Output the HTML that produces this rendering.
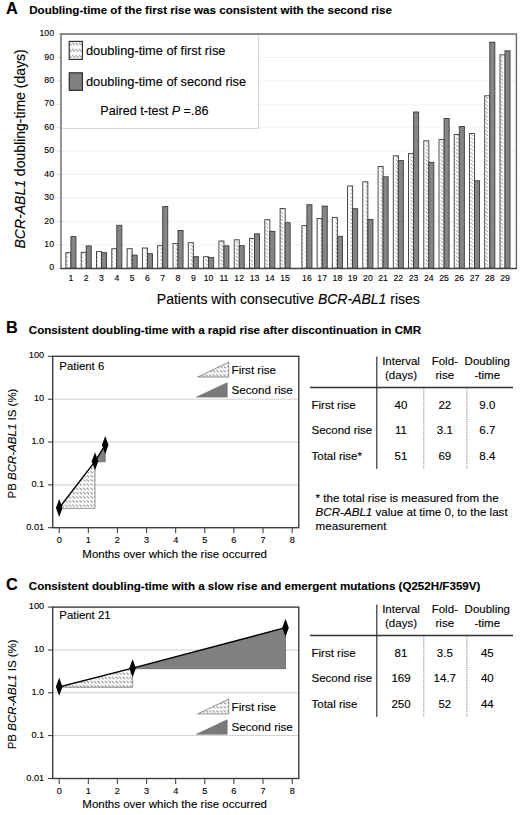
<!DOCTYPE html>
<html><head><meta charset="utf-8"><title>BCR-ABL1 doubling-time</title>
<style>
html,body{margin:0;padding:0;background:#fff;}
body{width:520px;height:815px;overflow:hidden;}
svg{display:block;}
text{font-family:"Liberation Sans",sans-serif;fill:#000;stroke:#000;stroke-width:0.12px;}
.b{font-weight:bold;fill:#000;}
.i{font-style:italic;}
</style></head><body>
<svg width="520" height="815" viewBox="0 0 520 815">
<defs>
<pattern id="h" patternUnits="userSpaceOnUse" width="5" height="3.7" x="0" y="0">
<rect width="5" height="3.7" fill="#fff"/>
<path d="M0.6,0.4 L3.0,2.9" stroke="#858585" stroke-width="0.85"/>
</pattern>
<pattern id="h2" patternUnits="userSpaceOnUse" width="3.6" height="4.2" x="0" y="0">
<rect width="3.6" height="4.2" fill="#fff"/>
<path d="M0.3,0.5 L2.8,2.8" stroke="#777" stroke-width="0.9"/>
</pattern>
<pattern id="h3" patternUnits="userSpaceOnUse" width="3.4" height="6.3" x="68.6" y="41.8">
<rect width="3.4" height="6.3" fill="#fff"/>
<path d="M0.3,0.7 L3.0,3.4" stroke="#7a7a7a" stroke-width="0.9"/>
</pattern>
</defs>
<rect width="520" height="815" fill="#fff"/>

<text x="6" y="14.2" class="b" font-size="16.3">A</text>
<text x="29.2" y="14.2" class="b" font-size="11.6">Doubling-time of the first rise was consistent with the second rise</text>
<line x1="61" y1="244.8" x2="516" y2="244.8" stroke="#f2f2f2" stroke-width="1"/>
<line x1="61" y1="221.4" x2="516" y2="221.4" stroke="#f2f2f2" stroke-width="1"/>
<line x1="61" y1="197.9" x2="516" y2="197.9" stroke="#f2f2f2" stroke-width="1"/>
<line x1="61" y1="174.5" x2="516" y2="174.5" stroke="#f2f2f2" stroke-width="1"/>
<line x1="61" y1="151.1" x2="516" y2="151.1" stroke="#f2f2f2" stroke-width="1"/>
<line x1="61" y1="127.7" x2="516" y2="127.7" stroke="#f2f2f2" stroke-width="1"/>
<line x1="61" y1="104.3" x2="516" y2="104.3" stroke="#f2f2f2" stroke-width="1"/>
<line x1="61" y1="80.8" x2="516" y2="80.8" stroke="#f2f2f2" stroke-width="1"/>
<line x1="61" y1="57.4" x2="516" y2="57.4" stroke="#f2f2f2" stroke-width="1"/>
<text x="54" y="270.3" font-size="8.7" text-anchor="end">0</text>
<line x1="57" y1="268.2" x2="61" y2="268.2" stroke="#ccc" stroke-width="0.8"/>
<text x="54" y="246.9" font-size="8.7" text-anchor="end">10</text>
<line x1="57" y1="244.8" x2="61" y2="244.8" stroke="#ccc" stroke-width="0.8"/>
<text x="54" y="223.5" font-size="8.7" text-anchor="end">20</text>
<line x1="57" y1="221.4" x2="61" y2="221.4" stroke="#ccc" stroke-width="0.8"/>
<text x="54" y="200.0" font-size="8.7" text-anchor="end">30</text>
<line x1="57" y1="197.9" x2="61" y2="197.9" stroke="#ccc" stroke-width="0.8"/>
<text x="54" y="176.6" font-size="8.7" text-anchor="end">40</text>
<line x1="57" y1="174.5" x2="61" y2="174.5" stroke="#ccc" stroke-width="0.8"/>
<text x="54" y="153.2" font-size="8.7" text-anchor="end">50</text>
<line x1="57" y1="151.1" x2="61" y2="151.1" stroke="#ccc" stroke-width="0.8"/>
<text x="54" y="129.8" font-size="8.7" text-anchor="end">60</text>
<line x1="57" y1="127.7" x2="61" y2="127.7" stroke="#ccc" stroke-width="0.8"/>
<text x="54" y="106.4" font-size="8.7" text-anchor="end">70</text>
<line x1="57" y1="104.3" x2="61" y2="104.3" stroke="#ccc" stroke-width="0.8"/>
<text x="54" y="82.9" font-size="8.7" text-anchor="end">80</text>
<line x1="57" y1="80.8" x2="61" y2="80.8" stroke="#ccc" stroke-width="0.8"/>
<text x="54" y="59.5" font-size="8.7" text-anchor="end">90</text>
<line x1="57" y1="57.4" x2="61" y2="57.4" stroke="#ccc" stroke-width="0.8"/>
<text x="54" y="36.1" font-size="8.7" text-anchor="end">100</text>
<line x1="57" y1="34.0" x2="61" y2="34.0" stroke="#ccc" stroke-width="0.8"/>
<rect x="61" y="34" width="197.7" height="94.3" fill="#fff" stroke="#c8c8c8" stroke-width="0.8"/>
<rect x="65.9" y="252.7" width="5.05" height="15.5" fill="url(#h)" stroke="#3a3a3a" stroke-width="0.9"/>
<rect x="70.9" y="236.6" width="5.05" height="31.6" fill="#858585" stroke="#3a3a3a" stroke-width="0.9"/>
<text x="70.9" y="281.3" font-size="8.7" text-anchor="middle">1</text>
<rect x="81.2" y="252.3" width="5.05" height="15.9" fill="url(#h)" stroke="#3a3a3a" stroke-width="0.9"/>
<rect x="86.2" y="245.9" width="5.05" height="22.3" fill="#858585" stroke="#3a3a3a" stroke-width="0.9"/>
<text x="86.2" y="281.3" font-size="8.7" text-anchor="middle">2</text>
<rect x="96.5" y="251.6" width="5.05" height="16.6" fill="url(#h)" stroke="#3a3a3a" stroke-width="0.9"/>
<rect x="101.5" y="252.7" width="5.05" height="15.5" fill="#858585" stroke="#3a3a3a" stroke-width="0.9"/>
<text x="101.5" y="281.3" font-size="8.7" text-anchor="middle">3</text>
<rect x="111.8" y="248.7" width="5.05" height="19.5" fill="url(#h)" stroke="#3a3a3a" stroke-width="0.9"/>
<rect x="116.8" y="225.3" width="5.05" height="42.9" fill="#858585" stroke="#3a3a3a" stroke-width="0.9"/>
<text x="116.8" y="281.3" font-size="8.7" text-anchor="middle">4</text>
<rect x="127.1" y="248.7" width="5.05" height="19.5" fill="url(#h)" stroke="#3a3a3a" stroke-width="0.9"/>
<rect x="132.1" y="255.1" width="5.05" height="13.1" fill="#858585" stroke="#3a3a3a" stroke-width="0.9"/>
<text x="132.1" y="281.3" font-size="8.7" text-anchor="middle">5</text>
<rect x="142.4" y="248.0" width="5.05" height="20.2" fill="url(#h)" stroke="#3a3a3a" stroke-width="0.9"/>
<rect x="147.4" y="253.7" width="5.05" height="14.5" fill="#858585" stroke="#3a3a3a" stroke-width="0.9"/>
<text x="147.4" y="281.3" font-size="8.7" text-anchor="middle">6</text>
<rect x="157.7" y="245.7" width="5.05" height="22.5" fill="url(#h)" stroke="#3a3a3a" stroke-width="0.9"/>
<rect x="162.7" y="206.6" width="5.05" height="61.6" fill="#858585" stroke="#3a3a3a" stroke-width="0.9"/>
<text x="162.7" y="281.3" font-size="8.7" text-anchor="middle">7</text>
<rect x="173.0" y="243.6" width="5.05" height="24.6" fill="url(#h)" stroke="#3a3a3a" stroke-width="0.9"/>
<rect x="178.0" y="230.5" width="5.05" height="37.7" fill="#858585" stroke="#3a3a3a" stroke-width="0.9"/>
<text x="178.0" y="281.3" font-size="8.7" text-anchor="middle">8</text>
<rect x="188.3" y="242.7" width="5.05" height="25.5" fill="url(#h)" stroke="#3a3a3a" stroke-width="0.9"/>
<rect x="193.3" y="256.7" width="5.05" height="11.5" fill="#858585" stroke="#3a3a3a" stroke-width="0.9"/>
<text x="193.3" y="281.3" font-size="8.7" text-anchor="middle">9</text>
<rect x="203.6" y="256.7" width="5.05" height="11.5" fill="url(#h)" stroke="#3a3a3a" stroke-width="0.9"/>
<rect x="208.6" y="257.6" width="5.05" height="10.6" fill="#858585" stroke="#3a3a3a" stroke-width="0.9"/>
<text x="208.6" y="281.3" font-size="8.7" text-anchor="middle">10</text>
<rect x="218.9" y="241.0" width="5.05" height="27.2" fill="url(#h)" stroke="#3a3a3a" stroke-width="0.9"/>
<rect x="223.9" y="245.9" width="5.05" height="22.3" fill="#858585" stroke="#3a3a3a" stroke-width="0.9"/>
<text x="223.9" y="281.3" font-size="8.7" text-anchor="middle">11</text>
<rect x="234.2" y="239.8" width="5.05" height="28.4" fill="url(#h)" stroke="#3a3a3a" stroke-width="0.9"/>
<rect x="239.2" y="245.7" width="5.05" height="22.5" fill="#858585" stroke="#3a3a3a" stroke-width="0.9"/>
<text x="239.2" y="281.3" font-size="8.7" text-anchor="middle">12</text>
<rect x="249.5" y="238.4" width="5.05" height="29.8" fill="url(#h)" stroke="#3a3a3a" stroke-width="0.9"/>
<rect x="254.5" y="233.8" width="5.05" height="34.4" fill="#858585" stroke="#3a3a3a" stroke-width="0.9"/>
<text x="254.5" y="281.3" font-size="8.7" text-anchor="middle">13</text>
<rect x="264.8" y="219.7" width="5.05" height="48.5" fill="url(#h)" stroke="#3a3a3a" stroke-width="0.9"/>
<rect x="269.8" y="231.4" width="5.05" height="36.8" fill="#858585" stroke="#3a3a3a" stroke-width="0.9"/>
<text x="269.8" y="281.3" font-size="8.7" text-anchor="middle">14</text>
<rect x="280.1" y="208.5" width="5.05" height="59.7" fill="url(#h)" stroke="#3a3a3a" stroke-width="0.9"/>
<rect x="285.1" y="222.7" width="5.05" height="45.5" fill="#858585" stroke="#3a3a3a" stroke-width="0.9"/>
<text x="285.1" y="281.3" font-size="8.7" text-anchor="middle">15</text>
<rect x="301.9" y="225.6" width="5.05" height="42.6" fill="url(#h)" stroke="#3a3a3a" stroke-width="0.9"/>
<rect x="306.9" y="204.7" width="5.05" height="63.5" fill="#858585" stroke="#3a3a3a" stroke-width="0.9"/>
<text x="306.9" y="281.3" font-size="8.7" text-anchor="middle">16</text>
<rect x="317.1" y="218.5" width="5.05" height="49.7" fill="url(#h)" stroke="#3a3a3a" stroke-width="0.9"/>
<rect x="322.2" y="206.1" width="5.05" height="62.1" fill="#858585" stroke="#3a3a3a" stroke-width="0.9"/>
<text x="322.2" y="281.3" font-size="8.7" text-anchor="middle">17</text>
<rect x="332.3" y="217.4" width="5.05" height="50.8" fill="url(#h)" stroke="#3a3a3a" stroke-width="0.9"/>
<rect x="337.4" y="236.3" width="5.05" height="31.9" fill="#858585" stroke="#3a3a3a" stroke-width="0.9"/>
<text x="337.4" y="281.3" font-size="8.7" text-anchor="middle">18</text>
<rect x="347.6" y="186.0" width="5.05" height="82.2" fill="url(#h)" stroke="#3a3a3a" stroke-width="0.9"/>
<rect x="352.6" y="208.7" width="5.05" height="59.5" fill="#858585" stroke="#3a3a3a" stroke-width="0.9"/>
<text x="352.6" y="281.3" font-size="8.7" text-anchor="middle">19</text>
<rect x="362.8" y="181.8" width="5.05" height="86.4" fill="url(#h)" stroke="#3a3a3a" stroke-width="0.9"/>
<rect x="367.9" y="219.5" width="5.05" height="48.7" fill="#858585" stroke="#3a3a3a" stroke-width="0.9"/>
<text x="367.9" y="281.3" font-size="8.7" text-anchor="middle">20</text>
<rect x="378.1" y="166.5" width="5.05" height="101.7" fill="url(#h)" stroke="#3a3a3a" stroke-width="0.9"/>
<rect x="383.1" y="176.8" width="5.05" height="91.4" fill="#858585" stroke="#3a3a3a" stroke-width="0.9"/>
<text x="383.1" y="281.3" font-size="8.7" text-anchor="middle">21</text>
<rect x="393.3" y="155.8" width="5.05" height="112.4" fill="url(#h)" stroke="#3a3a3a" stroke-width="0.9"/>
<rect x="398.3" y="160.4" width="5.05" height="107.8" fill="#858585" stroke="#3a3a3a" stroke-width="0.9"/>
<text x="398.3" y="281.3" font-size="8.7" text-anchor="middle">22</text>
<rect x="408.5" y="153.7" width="5.05" height="114.5" fill="url(#h)" stroke="#3a3a3a" stroke-width="0.9"/>
<rect x="413.6" y="112.0" width="5.05" height="156.2" fill="#858585" stroke="#3a3a3a" stroke-width="0.9"/>
<text x="413.6" y="281.3" font-size="8.7" text-anchor="middle">23</text>
<rect x="423.8" y="140.8" width="5.05" height="127.4" fill="url(#h)" stroke="#3a3a3a" stroke-width="0.9"/>
<rect x="428.8" y="162.3" width="5.05" height="105.9" fill="#858585" stroke="#3a3a3a" stroke-width="0.9"/>
<text x="428.8" y="281.3" font-size="8.7" text-anchor="middle">24</text>
<rect x="439.0" y="139.6" width="5.05" height="128.6" fill="url(#h)" stroke="#3a3a3a" stroke-width="0.9"/>
<rect x="444.1" y="118.5" width="5.05" height="149.7" fill="#858585" stroke="#3a3a3a" stroke-width="0.9"/>
<text x="444.1" y="281.3" font-size="8.7" text-anchor="middle">25</text>
<rect x="454.2" y="134.5" width="5.05" height="133.7" fill="url(#h)" stroke="#3a3a3a" stroke-width="0.9"/>
<rect x="459.3" y="126.5" width="5.05" height="141.7" fill="#858585" stroke="#3a3a3a" stroke-width="0.9"/>
<text x="459.3" y="281.3" font-size="8.7" text-anchor="middle">26</text>
<rect x="469.5" y="133.5" width="5.05" height="134.7" fill="url(#h)" stroke="#3a3a3a" stroke-width="0.9"/>
<rect x="474.5" y="180.8" width="5.05" height="87.4" fill="#858585" stroke="#3a3a3a" stroke-width="0.9"/>
<text x="474.5" y="281.3" font-size="8.7" text-anchor="middle">27</text>
<rect x="484.7" y="95.8" width="5.05" height="172.4" fill="url(#h)" stroke="#3a3a3a" stroke-width="0.9"/>
<rect x="489.8" y="42.2" width="5.05" height="226.0" fill="#858585" stroke="#3a3a3a" stroke-width="0.9"/>
<text x="489.8" y="281.3" font-size="8.7" text-anchor="middle">28</text>
<rect x="500.0" y="54.8" width="5.05" height="213.4" fill="url(#h)" stroke="#3a3a3a" stroke-width="0.9"/>
<rect x="505.0" y="50.8" width="5.05" height="217.4" fill="#858585" stroke="#3a3a3a" stroke-width="0.9"/>
<text x="505.0" y="281.3" font-size="8.7" text-anchor="middle">29</text>
<path d="M61,268.4 L61,34 L516.4,34 L516.4,268.4" fill="none" stroke="#6a6a6a" stroke-width="1.4"/>
<line x1="60.3" y1="268.4" x2="517" y2="268.4" stroke="#444" stroke-width="1.5"/>
<rect x="69.2" y="41.4" width="13.2" height="18" fill="url(#h3)" stroke="#222" stroke-width="1.1"/>
<rect x="69.2" y="72.8" width="13.2" height="17.5" fill="#7f7f7f" stroke="#222" stroke-width="1.1"/>
<text x="86" y="55.4" font-size="12.8">doubling-time of first rise</text>
<text x="86" y="85.8" font-size="12.8">doubling-time of second rise</text>
<text x="100.3" y="114.6" font-size="12.6">Paired t-test <tspan class="i">P</tspan> =.86</text>
<text transform="translate(24.5,248.5) rotate(-90)" font-size="14"><tspan class="i">BCR-ABL1</tspan> doubling-time (days)</text>
<text x="156.8" y="304.2" font-size="14">Patients with consecutive <tspan class="i">BCR-ABL1</tspan> rises</text>
<text x="6" y="333.2" class="b" font-size="16.3">B</text>
<text x="28.8" y="333.6" class="b" font-size="11.6">Consistent doubling-time with a rapid rise after discontinuation in CMR</text>
<line x1="52.7" y1="399.2" x2="298.8" y2="399.2" stroke="#cfcfcf" stroke-width="1"/>
<line x1="52.7" y1="442.0" x2="298.8" y2="442.0" stroke="#cfcfcf" stroke-width="1"/>
<line x1="52.7" y1="484.9" x2="298.8" y2="484.9" stroke="#cfcfcf" stroke-width="1"/>
<line x1="48" y1="356.3" x2="52.7" y2="356.3" stroke="#333" stroke-width="1"/>
<text x="44.2" y="358.3" font-size="9.2" text-anchor="end">100</text>
<line x1="48" y1="399.2" x2="52.7" y2="399.2" stroke="#333" stroke-width="1"/>
<text x="44.2" y="401.2" font-size="9.2" text-anchor="end">10</text>
<line x1="48" y1="442.0" x2="52.7" y2="442.0" stroke="#333" stroke-width="1"/>
<text x="44.2" y="444.0" font-size="9.2" text-anchor="end">1.0</text>
<line x1="48" y1="484.9" x2="52.7" y2="484.9" stroke="#333" stroke-width="1"/>
<text x="44.2" y="486.9" font-size="9.2" text-anchor="end">0.1</text>
<line x1="48" y1="527.7" x2="52.7" y2="527.7" stroke="#333" stroke-width="1"/>
<text x="44.2" y="529.7" font-size="9.2" text-anchor="end">0.01</text>
<line x1="59.2" y1="527.7" x2="59.2" y2="533.2" stroke="#333" stroke-width="1"/>
<text x="59.2" y="543.1" font-size="9.2" text-anchor="middle">0</text>
<line x1="88.3" y1="527.7" x2="88.3" y2="533.2" stroke="#333" stroke-width="1"/>
<text x="88.3" y="543.1" font-size="9.2" text-anchor="middle">1</text>
<line x1="117.4" y1="527.7" x2="117.4" y2="533.2" stroke="#333" stroke-width="1"/>
<text x="117.4" y="543.1" font-size="9.2" text-anchor="middle">2</text>
<line x1="146.6" y1="527.7" x2="146.6" y2="533.2" stroke="#333" stroke-width="1"/>
<text x="146.6" y="543.1" font-size="9.2" text-anchor="middle">3</text>
<line x1="175.7" y1="527.7" x2="175.7" y2="533.2" stroke="#333" stroke-width="1"/>
<text x="175.7" y="543.1" font-size="9.2" text-anchor="middle">4</text>
<line x1="204.8" y1="527.7" x2="204.8" y2="533.2" stroke="#333" stroke-width="1"/>
<text x="204.8" y="543.1" font-size="9.2" text-anchor="middle">5</text>
<line x1="233.9" y1="527.7" x2="233.9" y2="533.2" stroke="#333" stroke-width="1"/>
<text x="233.9" y="543.1" font-size="9.2" text-anchor="middle">6</text>
<line x1="263.0" y1="527.7" x2="263.0" y2="533.2" stroke="#333" stroke-width="1"/>
<text x="263.0" y="543.1" font-size="9.2" text-anchor="middle">7</text>
<line x1="292.2" y1="527.7" x2="292.2" y2="533.2" stroke="#333" stroke-width="1"/>
<text x="292.2" y="543.1" font-size="9.2" text-anchor="middle">8</text>
<path d="M59.2,508.4 L95.0,508.4 L95.0,461.3 Z" fill="url(#h2)" stroke="#888" stroke-width="0.9"/>
<path d="M95.0,461.8 L105.2,461.8 L105.2,445.0 Z" fill="#808080" stroke="#666" stroke-width="0.8"/>
<polyline points="59.2,507.9 95.0,461.3 105.2,445.0" fill="none" stroke="#000" stroke-width="1.35"/>
<path d="M59.2,498.9 L62.5,507.9 L59.2,516.9 L55.9,507.9 Z" fill="#000"/>
<path d="M95.0,452.3 L98.3,461.3 L95.0,470.3 L91.7,461.3 Z" fill="#000"/>
<path d="M105.2,436.0 L108.5,445.0 L105.2,454.0 L101.9,445.0 Z" fill="#000"/>
<rect x="52.7" y="356.3" width="246.1" height="171.4" fill="none" stroke="#3c3c3c" stroke-width="1.4"/>
<text x="59.3" y="370.3" font-size="11.4">Patient 6</text>
<path d="M197.7,377.0 L228.7,362.2 L228.7,377.0 Z" fill="url(#h2)" stroke="#777" stroke-width="0.8"/>
<path d="M196.6,397.1 L227.2,382.7 L227.2,397.1 Z" fill="#7a7a7a" stroke="#666" stroke-width="0.6"/>
<text x="231.6" y="373.9" font-size="11.6">First rise</text>
<text x="231.6" y="394.2" font-size="11.6">Second rise</text>
<text transform="translate(16.2,498.5) rotate(-90)" font-size="11.5">PB <tspan class="i">BCR-ABL1</tspan> IS (%)</text>
<text x="82.3" y="557.5" font-size="11.5">Months over which the rise occurred</text>
<line x1="376.8" y1="356.5" x2="376.8" y2="468.9" stroke="#333" stroke-width="1.2"/>
<line x1="310" y1="387.5" x2="513" y2="387.5" stroke="#333" stroke-width="1.3"/>
<line x1="423.8" y1="388.0" x2="423.8" y2="468.9" stroke="#777" stroke-width="0.9" stroke-dasharray="1.2,1"/>
<line x1="466.9" y1="388.0" x2="466.9" y2="468.9" stroke="#777" stroke-width="0.9" stroke-dasharray="1.2,1"/>
<text x="401" y="364.7" font-size="11.5" text-anchor="middle">Interval</text>
<text x="401" y="379.2" font-size="11.5" text-anchor="middle">(days)</text>
<text x="444.8" y="364.7" font-size="11.5" text-anchor="middle">Fold-</text>
<text x="444.8" y="379.2" font-size="11.5" text-anchor="middle">rise</text>
<text x="487.3" y="364.7" font-size="11.5" text-anchor="middle">Doubling</text>
<text x="487.3" y="379.2" font-size="11.5" text-anchor="middle">-time</text>
<text x="311.5" y="408.5" font-size="11.5">First rise</text>
<text x="401" y="408.5" font-size="11.5" text-anchor="middle">40</text>
<text x="444.8" y="408.5" font-size="11.5" text-anchor="middle">22</text>
<text x="487.3" y="408.5" font-size="11.5" text-anchor="middle">9.0</text>
<text x="311.5" y="434.1" font-size="11.5">Second rise</text>
<text x="401" y="434.1" font-size="11.5" text-anchor="middle">11</text>
<text x="444.8" y="434.1" font-size="11.5" text-anchor="middle">3.1</text>
<text x="487.3" y="434.1" font-size="11.5" text-anchor="middle">6.7</text>
<text x="311.5" y="459.7" font-size="11.5">Total rise*</text>
<text x="401" y="459.7" font-size="11.5" text-anchor="middle">51</text>
<text x="444.8" y="459.7" font-size="11.5" text-anchor="middle">69</text>
<text x="487.3" y="459.7" font-size="11.5" text-anchor="middle">8.4</text>
<text x="315.6" y="501.9" font-size="11.6">* the total rise is measured from the</text>
<text x="315.6" y="515.8" font-size="11.6"><tspan class="i">BCR-ABL1</tspan> value at time 0, to the last</text>
<text x="315.6" y="529.8" font-size="11.6">measurement</text>
<text x="6" y="589.7" class="b" font-size="16.3">C</text>
<text x="28.8" y="590.1" class="b" font-size="11.6">Consistent doubling-time with a slow rise and emergent mutations (Q252H/F359V)</text>
<line x1="52.7" y1="650.0" x2="298.8" y2="650.0" stroke="#cfcfcf" stroke-width="1"/>
<line x1="52.7" y1="692.8" x2="298.8" y2="692.8" stroke="#cfcfcf" stroke-width="1"/>
<line x1="52.7" y1="735.6" x2="298.8" y2="735.6" stroke="#cfcfcf" stroke-width="1"/>
<line x1="48" y1="607.1" x2="52.7" y2="607.1" stroke="#333" stroke-width="1"/>
<text x="44.2" y="609.1" font-size="9.2" text-anchor="end">100</text>
<line x1="48" y1="650.0" x2="52.7" y2="650.0" stroke="#333" stroke-width="1"/>
<text x="44.2" y="652.0" font-size="9.2" text-anchor="end">10</text>
<line x1="48" y1="692.8" x2="52.7" y2="692.8" stroke="#333" stroke-width="1"/>
<text x="44.2" y="694.8" font-size="9.2" text-anchor="end">1.0</text>
<line x1="48" y1="735.6" x2="52.7" y2="735.6" stroke="#333" stroke-width="1"/>
<text x="44.2" y="737.6" font-size="9.2" text-anchor="end">0.1</text>
<line x1="48" y1="778.5" x2="52.7" y2="778.5" stroke="#333" stroke-width="1"/>
<text x="44.2" y="780.5" font-size="9.2" text-anchor="end">0.01</text>
<line x1="59.2" y1="778.5" x2="59.2" y2="784.0" stroke="#333" stroke-width="1"/>
<text x="59.2" y="793.9" font-size="9.2" text-anchor="middle">0</text>
<line x1="88.3" y1="778.5" x2="88.3" y2="784.0" stroke="#333" stroke-width="1"/>
<text x="88.3" y="793.9" font-size="9.2" text-anchor="middle">1</text>
<line x1="117.4" y1="778.5" x2="117.4" y2="784.0" stroke="#333" stroke-width="1"/>
<text x="117.4" y="793.9" font-size="9.2" text-anchor="middle">2</text>
<line x1="146.6" y1="778.5" x2="146.6" y2="784.0" stroke="#333" stroke-width="1"/>
<text x="146.6" y="793.9" font-size="9.2" text-anchor="middle">3</text>
<line x1="175.7" y1="778.5" x2="175.7" y2="784.0" stroke="#333" stroke-width="1"/>
<text x="175.7" y="793.9" font-size="9.2" text-anchor="middle">4</text>
<line x1="204.8" y1="778.5" x2="204.8" y2="784.0" stroke="#333" stroke-width="1"/>
<text x="204.8" y="793.9" font-size="9.2" text-anchor="middle">5</text>
<line x1="233.9" y1="778.5" x2="233.9" y2="784.0" stroke="#333" stroke-width="1"/>
<text x="233.9" y="793.9" font-size="9.2" text-anchor="middle">6</text>
<line x1="263.0" y1="778.5" x2="263.0" y2="784.0" stroke="#333" stroke-width="1"/>
<text x="263.0" y="793.9" font-size="9.2" text-anchor="middle">7</text>
<line x1="292.2" y1="778.5" x2="292.2" y2="784.0" stroke="#333" stroke-width="1"/>
<text x="292.2" y="793.9" font-size="9.2" text-anchor="middle">8</text>
<path d="M59.2,687.3 L132.6,687.3 L132.6,668.2 Z" fill="url(#h2)" stroke="#888" stroke-width="0.9"/>
<path d="M132.6,668.7 L285.5,668.7 L285.5,627.7 Z" fill="#808080" stroke="#666" stroke-width="0.8"/>
<polyline points="59.2,686.8 132.6,668.2 285.5,627.7" fill="none" stroke="#000" stroke-width="1.35"/>
<path d="M59.2,677.8 L62.5,686.8 L59.2,695.8 L55.9,686.8 Z" fill="#000"/>
<path d="M132.6,659.2 L135.9,668.2 L132.6,677.2 L129.3,668.2 Z" fill="#000"/>
<path d="M285.5,618.7 L288.8,627.7 L285.5,636.7 L282.2,627.7 Z" fill="#000"/>
<rect x="52.7" y="607.1" width="246.1" height="171.4" fill="none" stroke="#3c3c3c" stroke-width="1.4"/>
<text x="59.3" y="619.4" font-size="11.4">Patient 21</text>
<path d="M197.7,713.9 L228.7,699.1 L228.7,713.9 Z" fill="url(#h2)" stroke="#777" stroke-width="0.8"/>
<path d="M196.6,734.2 L227.2,719.8 L227.2,734.2 Z" fill="#7a7a7a" stroke="#666" stroke-width="0.6"/>
<text x="231.6" y="710.8" font-size="11.6">First rise</text>
<text x="231.6" y="731.3" font-size="11.6">Second rise</text>
<text transform="translate(16.2,749.3) rotate(-90)" font-size="11.5">PB <tspan class="i">BCR-ABL1</tspan> IS (%)</text>
<text x="82.3" y="808.3" font-size="11.5">Months over which the rise occurred</text>
<line x1="376.8" y1="604.5" x2="376.8" y2="716.9" stroke="#333" stroke-width="1.2"/>
<line x1="310" y1="635.5" x2="513" y2="635.5" stroke="#333" stroke-width="1.3"/>
<line x1="423.8" y1="636.0" x2="423.8" y2="716.9" stroke="#777" stroke-width="0.9" stroke-dasharray="1.2,1"/>
<line x1="466.9" y1="636.0" x2="466.9" y2="716.9" stroke="#777" stroke-width="0.9" stroke-dasharray="1.2,1"/>
<text x="401" y="612.7" font-size="11.5" text-anchor="middle">Interval</text>
<text x="401" y="627.2" font-size="11.5" text-anchor="middle">(days)</text>
<text x="444.8" y="612.7" font-size="11.5" text-anchor="middle">Fold-</text>
<text x="444.8" y="627.2" font-size="11.5" text-anchor="middle">rise</text>
<text x="487.3" y="612.7" font-size="11.5" text-anchor="middle">Doubling</text>
<text x="487.3" y="627.2" font-size="11.5" text-anchor="middle">-time</text>
<text x="311.5" y="656.5" font-size="11.5">First rise</text>
<text x="401" y="656.5" font-size="11.5" text-anchor="middle">81</text>
<text x="444.8" y="656.5" font-size="11.5" text-anchor="middle">3.5</text>
<text x="487.3" y="656.5" font-size="11.5" text-anchor="middle">45</text>
<text x="311.5" y="682.1" font-size="11.5">Second rise</text>
<text x="401" y="682.1" font-size="11.5" text-anchor="middle">169</text>
<text x="444.8" y="682.1" font-size="11.5" text-anchor="middle">14.7</text>
<text x="487.3" y="682.1" font-size="11.5" text-anchor="middle">40</text>
<text x="311.5" y="707.7" font-size="11.5">Total rise</text>
<text x="401" y="707.7" font-size="11.5" text-anchor="middle">250</text>
<text x="444.8" y="707.7" font-size="11.5" text-anchor="middle">52</text>
<text x="487.3" y="707.7" font-size="11.5" text-anchor="middle">44</text>
</svg></body></html>
